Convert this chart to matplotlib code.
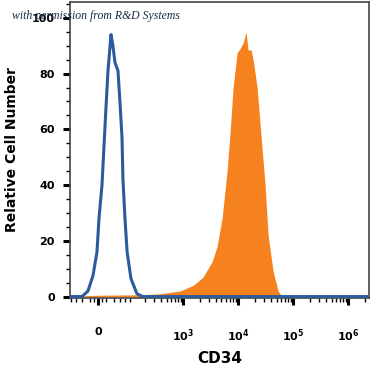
import matplotlib
matplotlib.use("Agg")
import matplotlib.pyplot as plt
from matplotlib.ticker import FixedLocator, NullFormatter, MultipleLocator

# isotype control (blue outline)
ctrl_x = [-83, -41, -24.6, -12, -2.4, 2.4, 9.6, 14.5, 19.5, 24.6, 32.6, 38, 44,
          53.5, 60, 67.5, 71, 79, 88, 106, 140, 183, 2.4e6]
ctrl_y = [0, 0, 2, 7.5, 16, 28, 40, 54, 68, 81, 94, 90, 84,
          81, 70, 57, 42, 28, 16, 6.5, 1, 0, 0]

# CD34 stained cells (orange fill)
cd34_x = [-41, 5, 101, 248, 380, 882, 1522, 2316, 3370, 4160, 5125, 6316, 7170,
          8130, 9616, 10900, 12360, 14000, 15200, 17300, 18800, 22200, 26200,
          31000, 35200, 43400, 53500, 63200]
cd34_y = [0.3, 0.5, 0.6, 0.8, 1, 2, 4, 7, 12.5, 18, 28, 45, 59,
          75, 87.5, 89, 91, 95, 88.5, 88.5, 85, 75, 57.5,
          40, 22, 9, 2, 0]

xtick_vals = [0, 1e3, 1e4, 1e5, 1e6]
xtick_labels = ["0", r"$\mathbf{10^3}$", r"$\mathbf{10^4}$",
                r"$\mathbf{10^5}$", r"$\mathbf{10^6}$"]

fig = plt.figure(figsize=(3.71, 3.72), dpi=100)
ax = fig.add_axes([0.1887, 0.199, 0.806, 0.7957])

ax.fill_between(cd34_x, cd34_y, 0, color="#f5821f", linewidth=0, zorder=2)
ax.plot(ctrl_x, ctrl_y, color="#2b5b9e", linewidth=2.2, zorder=3)

ax.set_xscale("asinh", linear_width=57)
ax.set_xlim(-83, 2.4e6)
ax.set_ylim(-0.5, 105.7)

ax.xaxis.set_major_locator(FixedLocator(xtick_vals))
ax.set_xticklabels(xtick_labels, fontsize=8, fontweight="bold")
minors = [-80, -60, -40, -20, -10, 10, 20, 40, 60, 80, 100]
for dec in [100, 1000, 10000, 100000]:
    minors += [dec * k for k in range(2, 10)]
minors += [2e6]
ax.xaxis.set_minor_locator(FixedLocator(minors))
ax.xaxis.set_minor_formatter(NullFormatter())

ax.yaxis.set_major_locator(MultipleLocator(20))
ax.yaxis.set_minor_locator(MultipleLocator(5))
for lab in ax.get_yticklabels():
    lab.set_fontweight("bold")
    lab.set_fontsize(8)

ax.tick_params(axis="both", which="major", direction="out", length=5, width=2.2)
ax.tick_params(axis="both", which="minor", direction="out", length=3, width=1)
ax.tick_params(axis="x", which="major", pad=16)
ax.tick_params(axis="y", which="major", pad=6)

for sp in ax.spines.values():
    sp.set_color("#444444")
    sp.set_linewidth(1.2)

ax.set_xlabel("CD34", fontsize=11, fontweight="bold", labelpad=5)
ax.set_ylabel("Relative Cell Number", fontsize=10, fontweight="bold", labelpad=9)

fig.text(0.032, 0.957, "with permission from R&D Systems", fontsize=8.5,
         family="Liberation Serif", style="italic", color="#1a2a4a", va="center")

fig.savefig("out.png", dpi=100)
